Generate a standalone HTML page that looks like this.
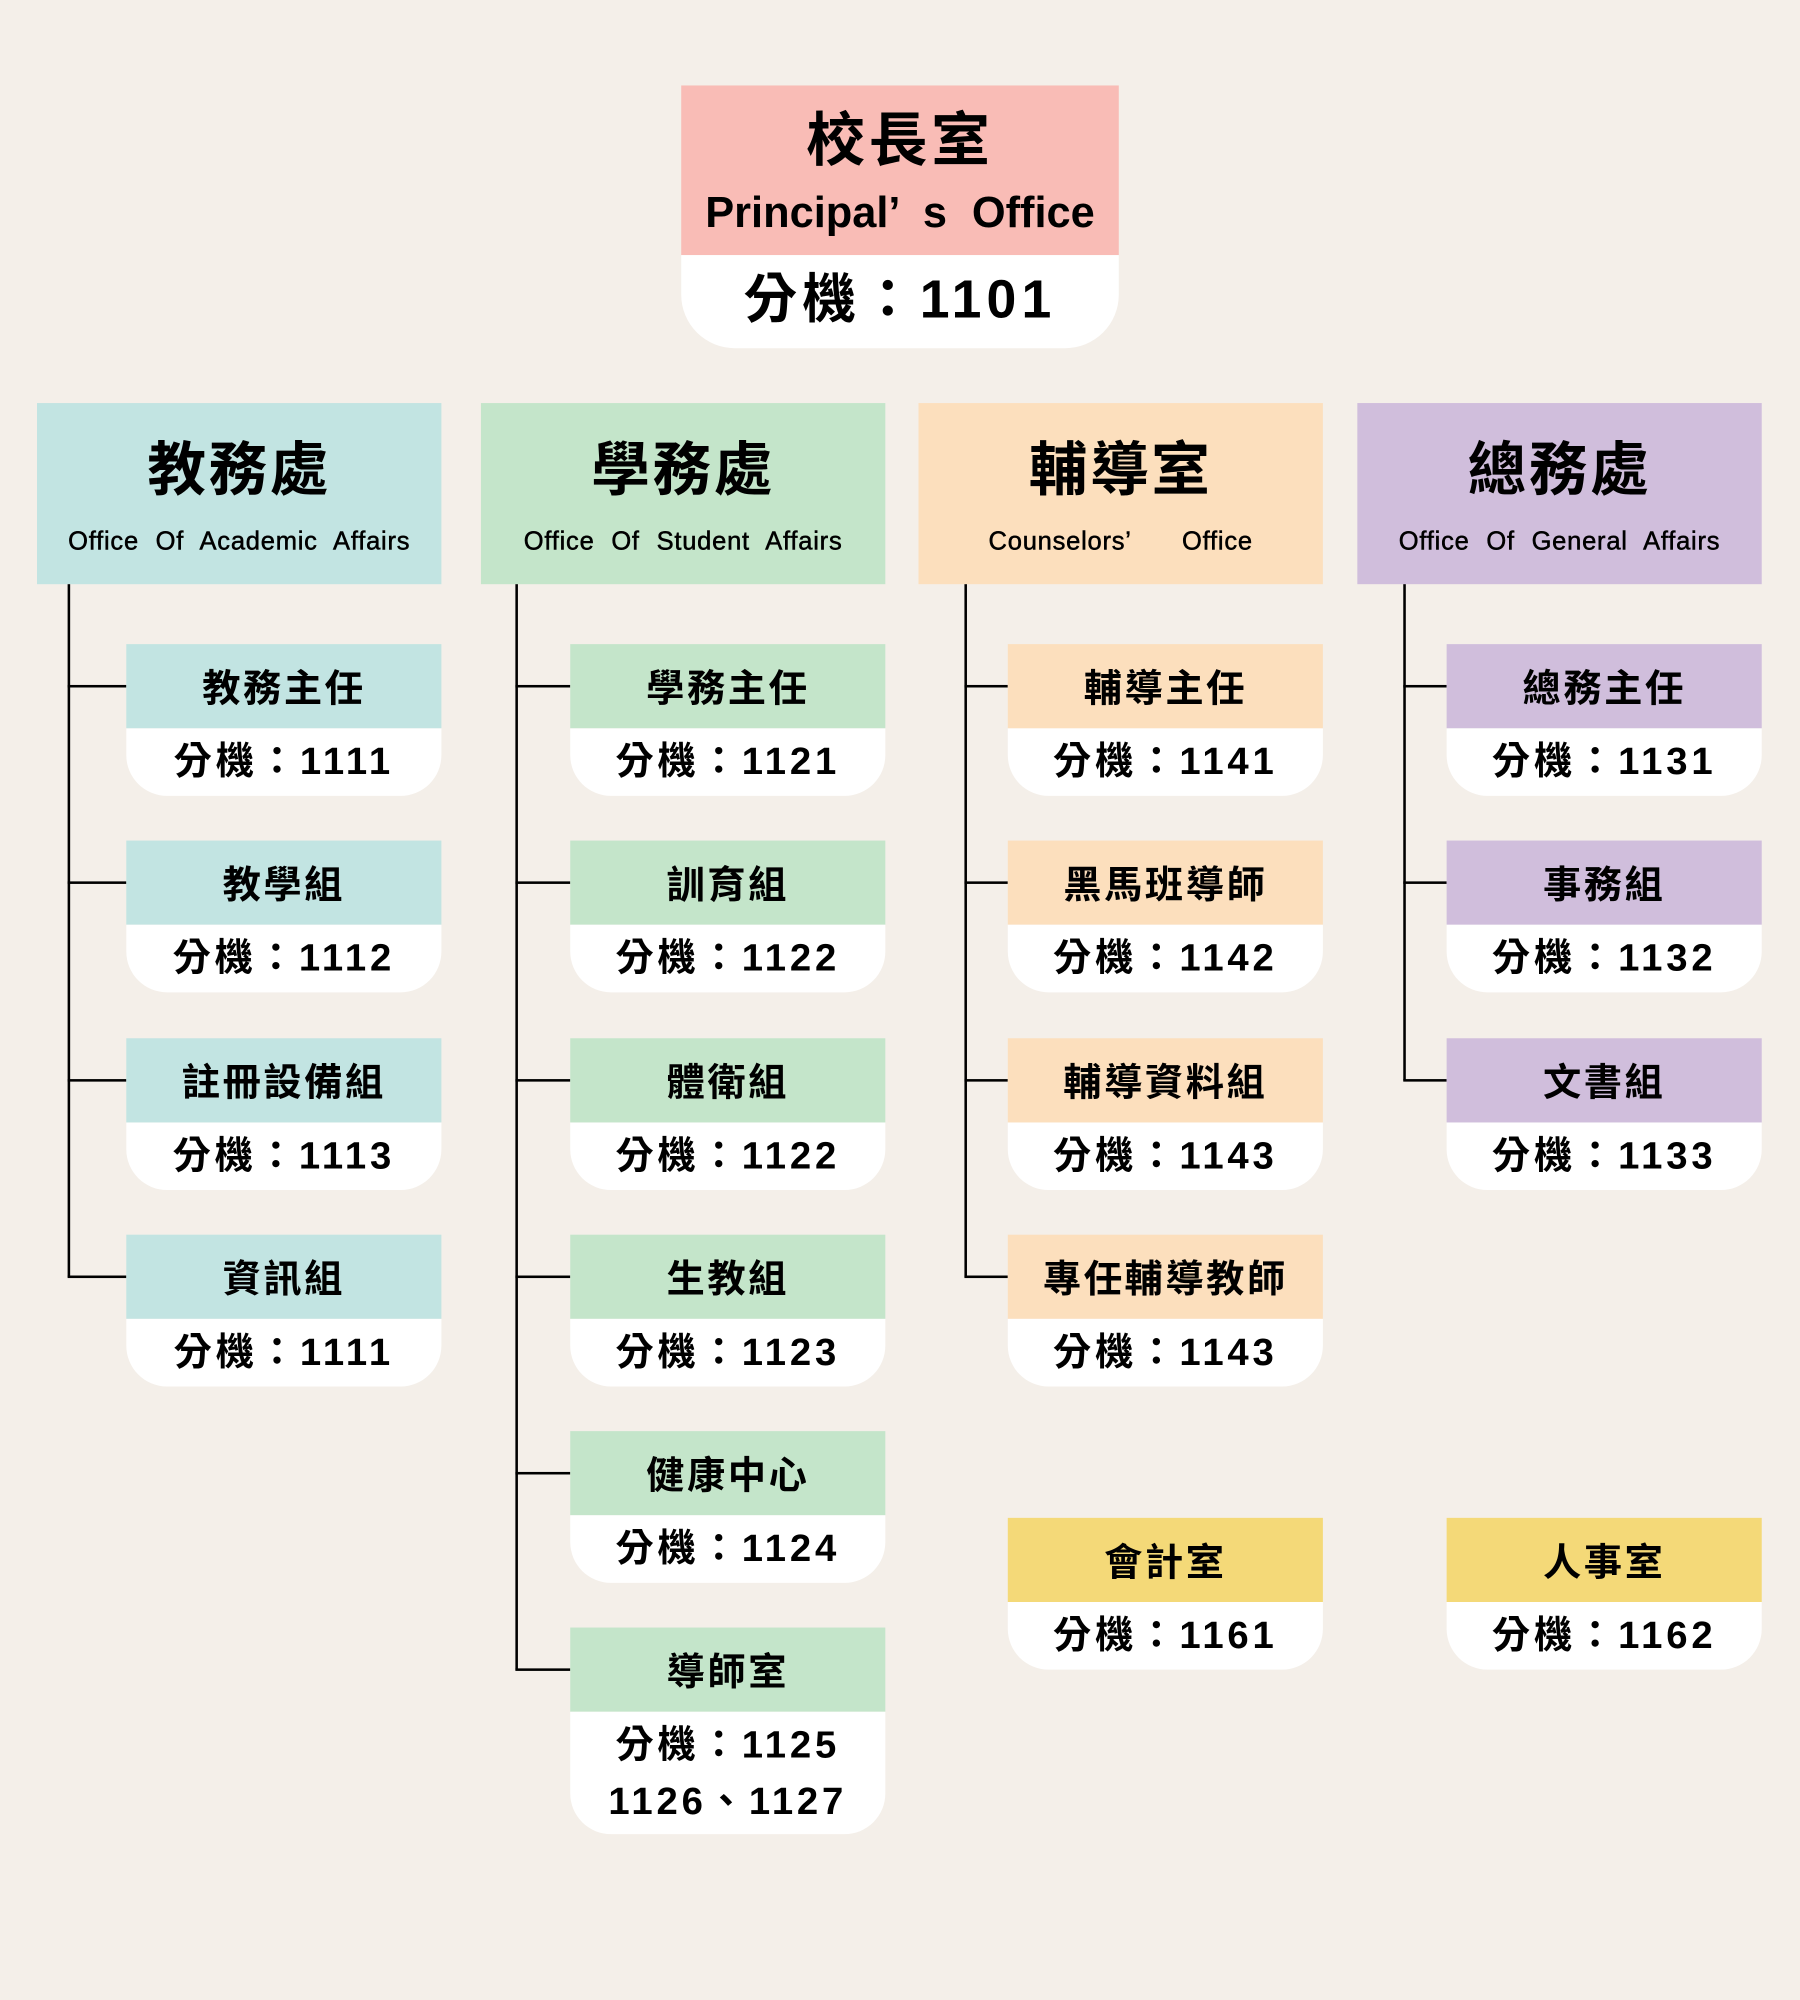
<!DOCTYPE html>
<html><head><meta charset="utf-8">
<style>
html,body{margin:0;padding:0;background:#f4efe9;}
body{width:1800px;height:2000px;overflow:hidden;position:relative;}
#w{position:absolute;left:0;top:0;width:1411px;height:1568px;transform:scale(1.27569,1.27551);transform-origin:0 0;
font-family:"Liberation Sans","Noto Sans CJK TC",sans-serif;color:#000;}
.a{position:absolute;}
.hd{position:absolute;top:316px;width:317px;height:142px;text-align:center;}
.hd .t{font-size:46px;font-weight:bold;line-height:46px;margin-top:29px;letter-spacing:2px;}
.hd .e{font-size:20px;line-height:22px;margin-top:23px;word-spacing:7px;letter-spacing:0.6px;-webkit-text-stroke:0.4px #000;}
.sb{position:absolute;width:247px;}
.sb .c{height:66px;font-size:30px;font-weight:bold;line-height:72px;text-align:center;letter-spacing:2px;}
.sb .w{background:#fff;height:53px;border-radius:0 0 32px 32px;font-size:30px;font-weight:bold;text-align:center;line-height:54px;letter-spacing:3px;}
.v{position:absolute;width:1.5px;background:#000;}
.h{position:absolute;height:1.5px;background:#000;}
</style></head><body><div id="w">
<div class="a" style="left:534px;top:67px;width:343px;height:133px;background:#f9bcb6;text-align:center;">
<div style="font-size:46px;font-weight:bold;line-height:46px;margin-top:20px;letter-spacing:3px;">校長室</div>
<div style="font-size:34px;font-weight:bold;line-height:36px;margin-top:16px;word-spacing:10px;">Principal’ s Office</div>
</div>
<div class="a" style="left:534px;top:200px;width:343px;height:73px;background:#fff;border-radius:0 0 42px 42px;text-align:center;font-size:42px;font-weight:bold;line-height:70px;letter-spacing:4px;">分機：1101</div>

<div class="hd" style="left:29px;background:#c2e4e2;"><div class="t">教務處</div><div class="e">Office Of Academic Affairs</div></div>
<div class="hd" style="left:377px;background:#c4e5ca;"><div class="t">學務處</div><div class="e">Office Of Student Affairs</div></div>
<div class="hd" style="left:720px;background:#fcdfbd;"><div class="t">輔導室</div><div class="e">Counselors’&nbsp;&nbsp; Office</div></div>
<div class="hd" style="left:1064px;background:#d0bedc;"><div class="t">總務處</div><div class="e">Office Of General Affairs</div></div>

<div class="v" style="left:53px;top:458px;height:543px;"></div>
<div class="h" style="left:53px;top:537px;width:46px;"></div>
<div class="h" style="left:53px;top:691px;width:46px;"></div>
<div class="h" style="left:53px;top:846px;width:46px;"></div>
<div class="h" style="left:53px;top:1000px;width:46px;"></div>

<div class="v" style="left:404px;top:458px;height:851px;"></div>
<div class="h" style="left:404px;top:537px;width:43px;"></div>
<div class="h" style="left:404px;top:691px;width:43px;"></div>
<div class="h" style="left:404px;top:846px;width:43px;"></div>
<div class="h" style="left:404px;top:1000px;width:43px;"></div>
<div class="h" style="left:404px;top:1154px;width:43px;"></div>
<div class="h" style="left:404px;top:1308px;width:43px;"></div>

<div class="v" style="left:756px;top:458px;height:543px;"></div>
<div class="h" style="left:756px;top:537px;width:34px;"></div>
<div class="h" style="left:756px;top:691px;width:34px;"></div>
<div class="h" style="left:756px;top:846px;width:34px;"></div>
<div class="h" style="left:756px;top:1000px;width:34px;"></div>

<div class="v" style="left:1100px;top:458px;height:389px;"></div>
<div class="h" style="left:1100px;top:537px;width:34px;"></div>
<div class="h" style="left:1100px;top:691px;width:34px;"></div>
<div class="h" style="left:1100px;top:846px;width:34px;"></div>

<div class="sb" style="left:99px;top:505px;"><div class="c" style="background:#c2e4e2">教務主任</div><div class="w">分機：1111</div></div>
<div class="sb" style="left:99px;top:659px;"><div class="c" style="background:#c2e4e2">教學組</div><div class="w">分機：1112</div></div>
<div class="sb" style="left:99px;top:814px;"><div class="c" style="background:#c2e4e2">註冊設備組</div><div class="w">分機：1113</div></div>
<div class="sb" style="left:99px;top:968px;"><div class="c" style="background:#c2e4e2">資訊組</div><div class="w">分機：1111</div></div>

<div class="sb" style="left:447px;top:505px;"><div class="c" style="background:#c4e5ca">學務主任</div><div class="w">分機：1121</div></div>
<div class="sb" style="left:447px;top:659px;"><div class="c" style="background:#c4e5ca">訓育組</div><div class="w">分機：1122</div></div>
<div class="sb" style="left:447px;top:814px;"><div class="c" style="background:#c4e5ca">體衛組</div><div class="w">分機：1122</div></div>
<div class="sb" style="left:447px;top:968px;"><div class="c" style="background:#c4e5ca">生教組</div><div class="w">分機：1123</div></div>
<div class="sb" style="left:447px;top:1122px;"><div class="c" style="background:#c4e5ca">健康中心</div><div class="w">分機：1124</div></div>
<div class="sb" style="left:447px;top:1276px;"><div class="c" style="background:#c4e5ca">導師室</div><div class="w" style="height:96px;line-height:44px;padding-top:5px;box-sizing:border-box;">分機：1125<br>1126、1127</div></div>

<div class="sb" style="left:790px;top:505px;"><div class="c" style="background:#fcdfbd">輔導主任</div><div class="w">分機：1141</div></div>
<div class="sb" style="left:790px;top:659px;"><div class="c" style="background:#fcdfbd">黑馬班導師</div><div class="w">分機：1142</div></div>
<div class="sb" style="left:790px;top:814px;"><div class="c" style="background:#fcdfbd">輔導資料組</div><div class="w">分機：1143</div></div>
<div class="sb" style="left:790px;top:968px;"><div class="c" style="background:#fcdfbd">專任輔導教師</div><div class="w">分機：1143</div></div>
<div class="sb" style="left:790px;top:1190px;"><div class="c" style="background:#f4d978">會計室</div><div class="w">分機：1161</div></div>

<div class="sb" style="left:1134px;top:505px;"><div class="c" style="background:#d0bedc">總務主任</div><div class="w">分機：1131</div></div>
<div class="sb" style="left:1134px;top:659px;"><div class="c" style="background:#d0bedc">事務組</div><div class="w">分機：1132</div></div>
<div class="sb" style="left:1134px;top:814px;"><div class="c" style="background:#d0bedc">文書組</div><div class="w">分機：1133</div></div>
<div class="sb" style="left:1134px;top:1190px;"><div class="c" style="background:#f4d978">人事室</div><div class="w">分機：1162</div></div>
</div></body></html>
